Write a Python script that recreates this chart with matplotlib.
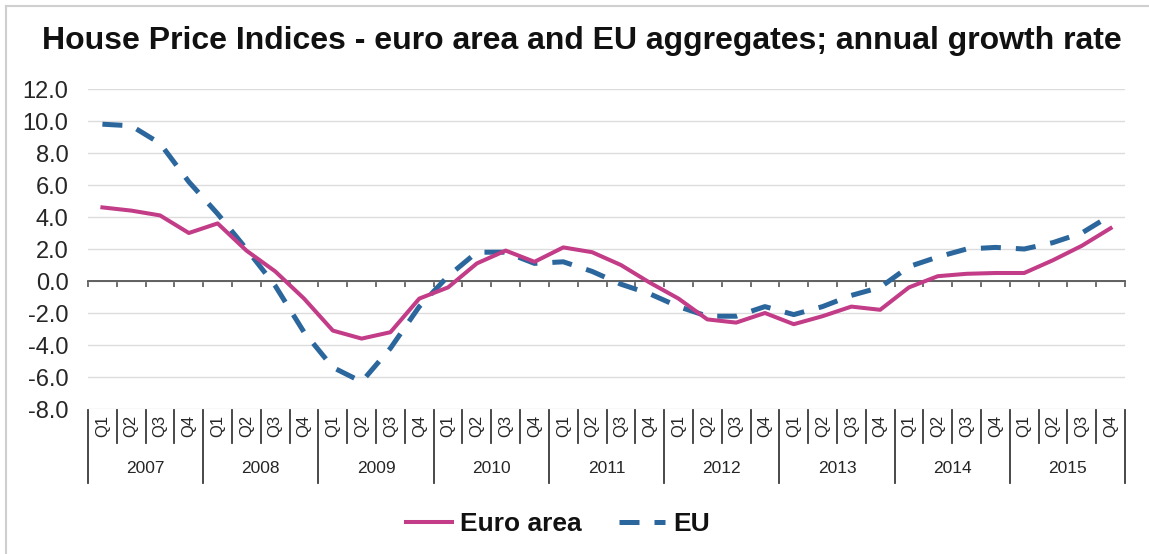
import numpy as np
import matplotlib
matplotlib.use("Agg")
import matplotlib.pyplot as plt
from matplotlib.lines import Line2D
import matplotlib.transforms as mtransforms

plt.rcParams["font.family"] = ["Liberation Sans", "DejaVu Sans"]

YEARS = ["2007", "2008", "2009", "2010", "2011", "2012", "2013", "2014", "2015"]
QUARTERS = ["Q1", "Q2", "Q3", "Q4"]

# annual growth rate (%), quarterly 2007Q1 .. 2015Q4
euro_area = [4.6, 4.4, 4.1, 3.0, 3.6, 1.9, 0.6, -1.1,
             -3.1, -3.6, -3.2, -1.1, -0.4, 1.1, 1.9, 1.2,
             2.1, 1.8, 1.0, -0.1, -1.1, -2.4, -2.6, -2.0,
             -2.7, -2.2, -1.6, -1.8, -0.4, 0.3, 0.45, 0.5,
             0.5, 1.3, 2.2, 3.3]
eu = [9.8, 9.7, 8.6, 6.2, 4.2, 2.0, -0.3, -3.2,
      -5.4, -6.3, -4.2, -1.6, 0.3, 1.8, 1.8, 1.1,
      1.2, 0.6, -0.2, -0.8, -1.6, -2.2, -2.2, -1.6,
      -2.1, -1.6, -0.9, -0.4, 0.9, 1.5, 2.0, 2.1,
      2.0, 2.4, 3.0, 4.1]

PINK = "#C23C87"
BLUE = "#2B669C"
TXT = "#262626"

n = len(euro_area)
x = np.arange(n)

fig = plt.figure(figsize=(11.49, 5.54), dpi=100)
ax = fig.add_axes([88 / 1149, 1 - 409 / 554, 1037 / 1149, 320 / 554])

ax.plot(x, eu, color=BLUE, lw=3.6, ls=(0, (4, 3)), dash_capstyle="butt",
        zorder=3, label="EU")
ax.plot(x, euro_area, color=PINK, lw=2.9, zorder=4, label="Euro area")

ax.set_xlim(-0.5, n - 0.5)
ax.set_ylim(-8, 12)
ax.set_yticks(np.arange(-8, 13, 2))
ax.set_yticklabels([f"{v:.1f}" for v in np.arange(-8, 13, 2)])
ax.tick_params(axis="y", length=0, pad=14, labelsize=17, labelcolor=TXT)
ax.grid(axis="y", color="#dcdcdc", lw=1.0)
ax.set_axisbelow(True)

for s in ["left", "right", "top"]:
    ax.spines[s].set_visible(False)
ax.spines["bottom"].set_position(("data", 0))
ax.spines["bottom"].set_color("#555555")
ax.spines["bottom"].set_linewidth(1.3)
ax.set_xticks(np.arange(-0.5, n, 1))
ax.tick_params(axis="x", direction="out", length=4, width=1.2,
               color="#555555", labelbottom=False)

# two-level category axis below the plot area
tr = mtransforms.blended_transform_factory(ax.transData, ax.transAxes)
narrow = ["Liberation Sans Narrow", "Liberation Sans", "DejaVu Sans"]
for i in range(n + 1):
    xb = i - 0.5
    y_end = -0.232 if i % 4 == 0 else -0.106
    ax.add_line(Line2D([xb, xb], [-0.003, y_end], transform=tr,
                       color="#3a3a3a", lw=1.3, clip_on=False))
for i in range(n):
    ax.text(i, -0.053, QUARTERS[i % 4], transform=tr, rotation=90,
            ha="center", va="center", fontsize=12, color=TXT, family=narrow)
for k, yr in enumerate(YEARS):
    ax.text(4 * k + 1.5, -0.185, yr, transform=tr, ha="center", va="center",
            fontsize=12.5, color=TXT, family=narrow)

fig.text(0.506, 1 - 41 / 554, "House Price Indices - euro area and EU aggregates; "
         "annual growth rate", ha="center", va="center", fontsize=23,
         fontweight="bold", color="#111111")

# light frame around the chart
fig.add_artist(Line2D([6 / 1149, 6 / 1149], [0, 1 - 6 / 554],
                      transform=fig.transFigure, color="#cfcfcf", lw=1.5))
fig.add_artist(Line2D([6 / 1149, 1], [1 - 6 / 554, 1 - 6 / 554],
                      transform=fig.transFigure, color="#cfcfcf", lw=1.5))

handles = [Line2D([], [], color=PINK, lw=2.9),
           Line2D([], [], color=BLUE, lw=3.6, ls=(0, (4, 3)))]
fig.legend(handles, ["Euro area", "EU"], loc="center", ncol=2,
           bbox_to_anchor=(558 / 1149, 1 - 524 / 554), frameon=False,
           prop={"weight": "bold", "size": 19}, handlelength=1.75,
           handletextpad=0.3, columnspacing=1.4, labelcolor="#111111")

fig.savefig("out.png", dpi=100)
